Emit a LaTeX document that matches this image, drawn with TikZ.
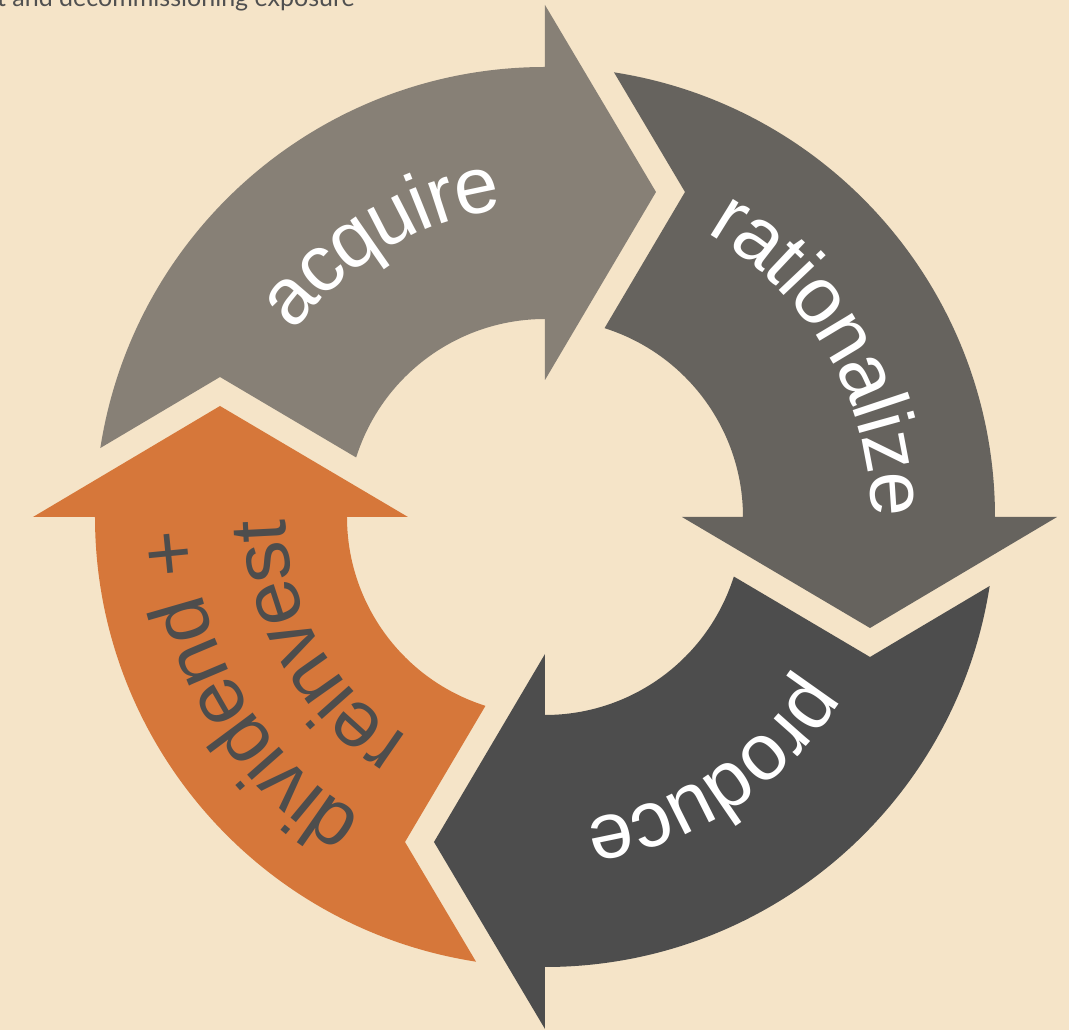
\documentclass[tikz,border=0pt]{standalone}
\usepackage{fontspec}
\usetikzlibrary{decorations.text}
\newfontfamily\labelfont{Liberation Sans}
\newfontfamily\notefont{Lato}

\definecolor{paper}{HTML}{F5E4C8}
\definecolor{acqgray}{HTML}{878076}
\definecolor{ratgray}{HTML}{66635E}
\definecolor{prodgray}{HTML}{4D4D4D}
\definecolor{divorange}{HTML}{D6773A}
\definecolor{notegray}{HTML}{505050}

\tikzset{
  % one quarter of the cycle: notched tail, curved body, head at 90 degrees
  cyclearrow/.pic={
    \path[pic actions]
      (171.18:450) -- (-325,140) -- (162.5:198)
      arc[start angle=162.5, end angle=90, radius=198]
      -- (0,137) -- (111,325) -- (0,512) -- (0,450)
      arc[start angle=90, end angle=171.18, radius=450] -- cycle;
  },
  acquirearrow/.style={fill=acqgray},
  rationalizearrow/.style={fill=ratgray},
  producearrow/.style={fill=prodgray},
  dividendarrow/.style={fill=divorange},
  % text set along a clockwise arc, letter centres on the arc
  arclabel/.style={decorate, decoration={text along path, text align=center,
      raise=-20.8pt, text={#1}}},
}
\newcommand{\bigwhite}{\labelfont\fontsize{80}{96}\selectfont\color{white}}
\newcommand{\bigdark}{\labelfont\fontsize{80}{96}\selectfont\color{prodgray}}

\begin{document}
\begin{tikzpicture}[x=1pt, y=1pt]
  \useasboundingbox (-545,-513) rectangle (524,517);
  \fill[paper] (-545,-513) rectangle (524,517);

  \begin{scope}
    \clip (-545,-513) rectangle (524,517);
    \node[anchor=base east, inner sep=0, text=notegray,
          font=\notefont\fontsize{25}{30}\selectfont] (note) at (-190,510)
      {t and decommissioning exposure};
  \end{scope}

  % the four arrows of the cycle
  \pic[acquirearrow] (acquire) {cyclearrow};
  \pic[rationalizearrow, rotate=-90] (rationalize) {cyclearrow};
  \pic[producearrow, rotate=-180] (produce) {cyclearrow};
  \pic[dividendarrow, rotate=90] (dividend) {cyclearrow};

  % labels
  \path[arclabel={|\bigwhite|acquire}]
    (160.7:332) arc[start angle=160.7, end angle=80.7, radius=332];
  \path[arclabel={|\bigwhite|rationalize}]
    (70.2:347) arc[start angle=70.2, end angle=-9.8, radius=347];
  \path[arclabel={|\bigwhite|produce}]
    (-16.75:326) arc[start angle=-16.75, end angle=-96.75, radius=326];
  \path[arclabel={|\bigdark|dividend +}]
    (250.3:372) arc[start angle=250.3, end angle=170.3, radius=372];
  \path[arclabel={|\bigdark|reinvest}]
    (249.3:280) arc[start angle=249.3, end angle=169.3, radius=280];
\end{tikzpicture}
\end{document}
